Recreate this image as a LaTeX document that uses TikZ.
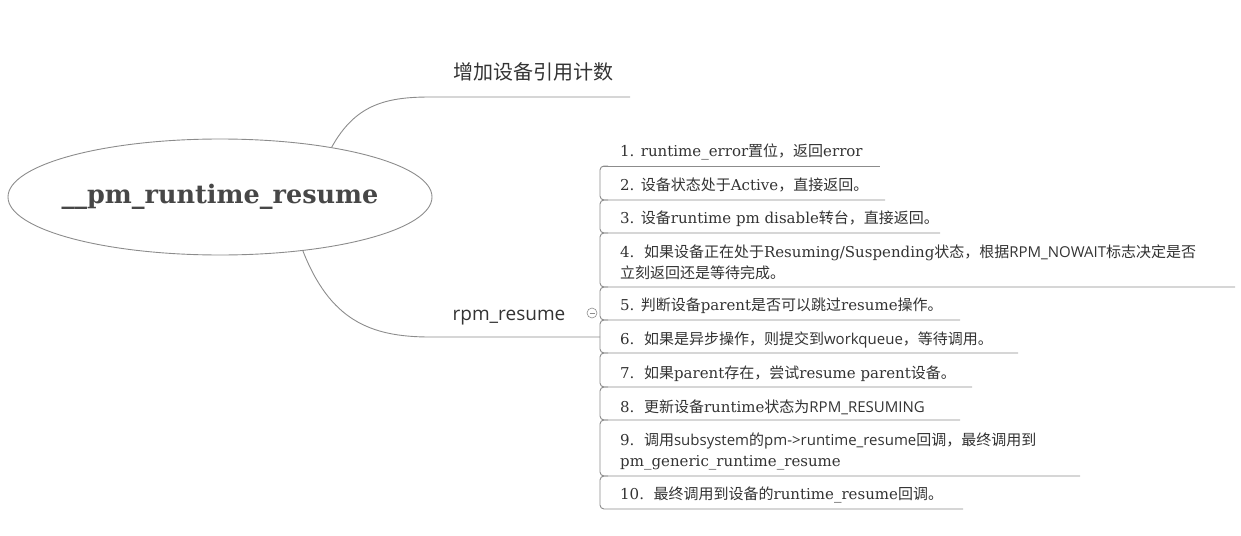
\documentclass[tikz,border=0pt]{standalone}
\usepackage{fontspec}
\setmainfont{DejaVu Serif}
\newfontfamily\cjk{Noto Sans CJK SC}
\newfontfamily\sans{Open Sans}
\newfontfamily\titlefont{DejaVu Serif}
\usetikzlibrary{shapes.geometric}
\definecolor{txt}{HTML}{333333}
\definecolor{ln}{HTML}{8C8C8C}
\newcommand\zh[1]{{\cjk #1}}
\newcommand\sn[1]{{\sans #1}}

\begin{document}
\begin{tikzpicture}[x=1pt, y=-1pt,
  every node/.style={text=txt, inner sep=0pt},
  item/.style={anchor=west, font=\fontsize{15}{21}\selectfont, align=left},
  branch/.style={draw=ln, line width=0.9pt}]
\useasboundingbox (0,0) rectangle (1241,535);

% central topic
\node[ellipse, draw=ln, line width=0.9pt, inner xsep=-12pt, minimum width=424pt, minimum height=116pt,
  font=\titlefont\bfseries\fontsize{25.5}{30}\selectfont, text=txt!90] (root) at (220,197) {\_\_pm\_runtime\_resume};

% main branches
\node[font=\cjk\fontsize{20}{24}\selectfont] (ref) at (533,72) {增加设备引用计数};
\node[font=\sans\fontsize{19}{22}\selectfont] (rpm) at (509,318) {rpm\_resume};
\node[circle, draw=ln, line width=0.6pt, minimum size=10pt] (fold) at (592,313) {};
\draw[ln, line width=0.6pt] ([xshift=-2.5pt]fold.center) -- ([xshift=2.5pt]fold.center);

\coordinate (refend) at (630,97);
\coordinate (rpmend) at (600,337);
\draw[branch] (root.24) .. controls (355,105) and (385,97) .. (430,97) -- (refend);
\draw[branch] (root.-33) .. controls (330,320) and (370,337) .. (430,337) -- (rpmend);

% steps of rpm_resume
\node[item] (s1) at (620,152) {1. runtime\_error\zh{置位，返回}error};
\node[item] (s2) at (620,185) {2. \zh{设备状态处于}Active\zh{，直接返回。}};
\node[item] (s3) at (620,219) {3. \zh{设备}runtime pm disable\zh{转台，直接返回。}};
\node[item] (s4) at (620,262) {4.\ \ \zh{如果设备正在处于}Resuming/Suspending\zh{状态，根据}\sn{RPM\_NOWAIT}\zh{标志决定是否}\\\zh{立刻返回还是等待完成。}};
\node[item] (s5) at (620,306) {5. \zh{判断设备}parent\zh{是否可以跳过}resume\zh{操作。}};
\node[item] (s6) at (620,340) {6.\ \ \zh{如果是异步操作，则提交到}\sn{workqueue}\zh{，等待调用。}};
\node[item] (s7) at (620,374) {7.\ \ \zh{如果}parent\zh{存在，尝试}resume parent\zh{设备。}};
\node[item] (s8) at (620,407) {8.\ \ \zh{更新设备}runtime\zh{状态为}\sn{RPM\_RESUMING}};
\node[item] (s9) at (620,451) {9.\ \ \zh{调用}\sn{subsystem}\zh{的}\sn{pm->runtime\_resume}\zh{回调，最终调用到}\\pm\_generic\_runtime\_resume};
\node[item] (s10) at (620,495) {10.\ \ \zh{最终调用到设备的}runtime\_resume\zh{回调。}};

\draw[branch] (603,166) -- (880,166);
\foreach \a/\b/\e in {166/200/885, 200/233/940, 233/287/1235, 287/320/960, 320/353/1018,
                      353/387/972, 387/420/960, 420/476/1080, 476/509/963}
  \draw[branch, rounded corners=4pt] (608,\a) -- (600,\a) -- (600,\b) -- (\e,\b);
\end{tikzpicture}
\end{document}
